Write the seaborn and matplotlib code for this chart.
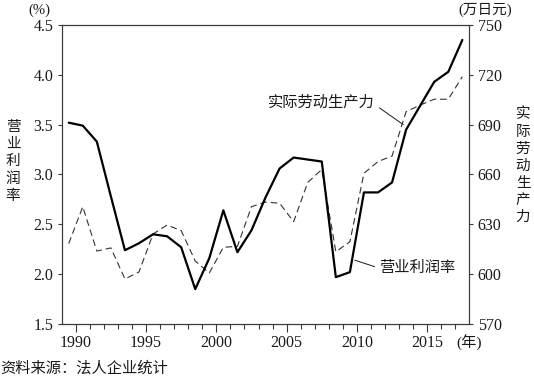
"""Operating profit margin vs real labour productivity (Japan, corporate statistics)."""

import matplotlib

matplotlib.use("Agg")

import matplotlib.pyplot as plt
import matplotlib.ticker as mticker
import numpy as np
import pandas as pd
import seaborn as sns


YEARS = list(range(1989, 2018))

PROFIT_RATE = [
    3.52, 3.49, 3.33, 2.78, 2.24, 2.31, 2.40, 2.38, 2.27, 1.85,
    2.16, 2.64, 2.22, 2.44, 2.77, 3.06, 3.17, 3.15, 3.13, 1.97,
    2.02, 2.82, 2.82, 2.92, 3.45, 3.69, 3.93, 4.03, 4.35,
]

PRODUCTIVITY = [
    618.4, 640.6, 613.9, 615.8, 597.1, 601.3, 624.2, 629.6, 626.2, 607.9,
    600.7, 616.2, 616.7, 640.6, 643.4, 642.7, 631.6, 655.2, 663.0, 613.5,
    619.5, 660.7, 667.8, 671.1, 697.8, 701.8, 705.3, 705.3, 718.9,
]

LEFT_TICKS = [1.5, 2.0, 2.5, 3.0, 3.5, 4.0, 4.5]
RIGHT_TICKS = [570, 600, 630, 660, 690, 720, 750]
YEAR_TICKS = [1990, 1995, 2000, 2005, 2010, 2015]

INK = "#1a1a1a"
SPINE = "#3a3a3a"
FONTS = ["Liberation Serif", "Noto Sans CJK SC", "DejaVu Sans"]


def setup_style() -> None:
    sns.set_theme(style="ticks")
    plt.rcParams["font.family"] = FONTS
    plt.rcParams["axes.unicode_minus"] = False
    plt.rcParams["axes.edgecolor"] = SPINE
    plt.rcParams["axes.linewidth"] = 0.8
    plt.rcParams["xtick.color"] = SPINE
    plt.rcParams["ytick.color"] = SPINE
    plt.rcParams["xtick.labelcolor"] = INK
    plt.rcParams["ytick.labelcolor"] = INK


def main() -> None:
    setup_style()
    df = pd.DataFrame({"year": YEARS, "profit": PROFIT_RATE, "prod": PRODUCTIVITY})
    # values are fiscal years, drawn in the middle of each year interval
    df["x"] = df["year"] + 0.5

    fig = plt.figure(figsize=(5.34, 3.78), dpi=100)
    ax1 = fig.add_axes([0.1155, 0.1429, 0.7635, 0.791])
    ax2 = ax1.twinx()

    sns.lineplot(data=df, x="x", y="prod", ax=ax2, color="#333333",
                 linewidth=0.8, linestyle=(0, (6, 3.5)))
    sns.lineplot(data=df, x="x", y="profit", ax=ax1, color="black", linewidth=1.6)

    ax1.set_xlim(1989, 2018)
    ax1.set_ylim(1.5, 4.5)
    ax2.set_ylim(570, 750)
    ax1.set_xticks(YEAR_TICKS)
    ax1.set_xticks(np.arange(1990, 2018), minor=True)
    ax1.set_yticks(LEFT_TICKS)
    ax1.yaxis.set_major_formatter(mticker.FormatStrFormatter("%.1f"))
    ax2.set_yticks(RIGHT_TICKS)
    for ax in (ax1, ax2):
        ax.set_xlabel("")
        ax.set_ylabel("")
        for side in ("top", "right", "left", "bottom"):
            ax.spines[side].set_visible(True)
            ax.spines[side].set_color(SPINE)
            ax.spines[side].set_linewidth(0.8)
    ax2.set_zorder(ax1.get_zorder() - 1)
    ax1.patch.set_visible(False)

    ax1.tick_params(axis="x", which="major", length=6, width=0.8, labelsize=11.5, pad=2)
    ax1.tick_params(axis="x", which="minor", length=3.6, width=0.8)
    ax1.tick_params(axis="y", length=3, width=0.8, labelsize=11.5, pad=3)
    ax2.tick_params(axis="y", length=3, width=0.8, labelsize=11.5, pad=3)

    # units and axis titles
    fig.text(39 / 534, 1 - 10 / 378, "(%)", ha="center", va="center", fontsize=10.5, color=INK)
    fig.text(485 / 534, 1 - 10 / 378, "(万日元)", ha="center", va="center", fontsize=10.5, color=INK)
    fig.text(13 / 534, 1 - 162 / 378, "\n".join("营业利润率"), ha="center", va="center",
             fontsize=10.5, linespacing=1.4, color=INK)
    fig.text(523 / 534, 1 - 166 / 378, "\n".join("实际劳动生产力"), ha="center", va="center",
             fontsize=10.5, linespacing=1.4, color=INK)
    ax1.annotate("(年)", xy=(2018, 0), xycoords=("data", "axes fraction"),
                 xytext=(0, -14), textcoords="offset points", ha="center", va="center",
                 fontsize=11, color=INK)
    fig.text(0.0, 1 - 368 / 378, "资料来源：法人企业统计", ha="left", va="center",
             fontsize=11, color=INK)

    # series labels with leader lines
    ax1.annotate("实际劳动生产力", xy=(2013.3, 3.50), xytext=(2007.5, 3.72),
                 ha="center", va="center", fontsize=11, color=INK,
                 arrowprops=dict(arrowstyle="-", color=INK, lw=0.7,
                                 relpos=(1.0, 0.35), shrinkA=1, shrinkB=0))
    ax1.annotate("营业利润率", xy=(2009.85, 2.14), xytext=(2014.3, 2.06),
                 ha="center", va="center", fontsize=11, color=INK,
                 arrowprops=dict(arrowstyle="-", color=INK, lw=0.7,
                                 relpos=(0.0, 0.5), shrinkA=1, shrinkB=0))

    fig.savefig("out.png", dpi=100)
    plt.close(fig)


if __name__ == "__main__":
    main()
